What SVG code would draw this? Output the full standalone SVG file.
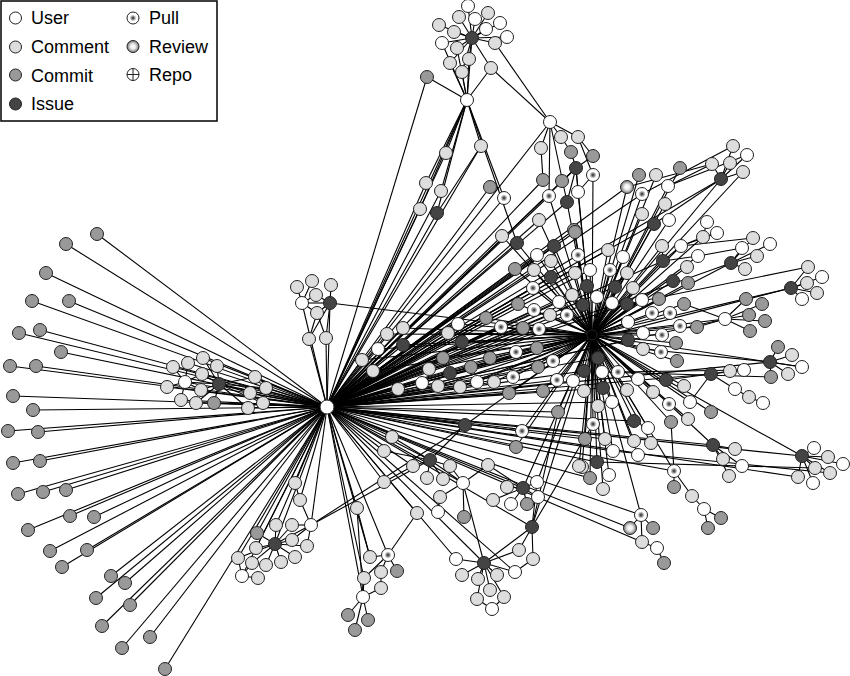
<svg xmlns="http://www.w3.org/2000/svg" width="850" height="676" viewBox="0 0 850 676">
<style>
circle{stroke:#222;stroke-width:1;r:6.5px}
.u{fill:#fff}.c{fill:#ddd}.m{fill:#999}.i{fill:#444}.p{fill:url(#gp)}.r{fill:url(#gr)}.h{fill:#000;r:5px}
#connectors path{stroke:#000;stroke-width:1.1;fill:none}
text{font-family:"Liberation Sans",Arial,sans-serif;font-size:18px;fill:#000}
</style>
<defs>
<radialGradient id="gp"><stop offset="0" stop-color="#222"/><stop offset="0.3" stop-color="#999"/><stop offset="0.55" stop-color="#fff"/><stop offset="1" stop-color="#fff"/></radialGradient>
<radialGradient id="gr"><stop offset="0" stop-color="#fff"/><stop offset="0.4" stop-color="#eee"/><stop offset="1" stop-color="#777"/></radialGradient>
</defs>
<rect width="850" height="676" fill="#fff"/>
<g id="connectors">
<path d="M327 407L97 234"/><path d="M327 407L66 244"/><path d="M327 407L46 273"/><path d="M327 407L69 301"/><path d="M327 407L32 301"/><path d="M327 407L40 330"/><path d="M327 407L19 333"/><path d="M327 407L61 352"/><path d="M327 407L10 366"/><path d="M327 407L36 366"/><path d="M327 407L13 396"/><path d="M327 407L33 410"/><path d="M327 407L8 431"/><path d="M327 407L38 432"/><path d="M327 407L13 463"/><path d="M327 407L40 461"/><path d="M327 407L18 494"/><path d="M327 407L43 492"/><path d="M327 407L66 490"/><path d="M327 407L28 530"/><path d="M327 407L70 516"/><path d="M327 407L94 517"/><path d="M327 407L50 551"/><path d="M327 407L87 550"/><path d="M327 407L111 576"/><path d="M327 407L62 567"/><path d="M327 407L96 598"/><path d="M327 407L125 583"/><path d="M327 407L130 605"/><path d="M327 407L102 626"/><path d="M327 407L150 637"/><path d="M327 407L122 648"/><path d="M327 407L165 669"/>
<path d="M327 407L173 367"/><path d="M327 407L188 363"/><path d="M327 407L203 358"/><path d="M327 407L167 387"/><path d="M327 407L181 400"/><path d="M327 407L196 403"/><path d="M327 407L214 403"/><path d="M327 407L255 377"/><path d="M327 407L266 388"/><path d="M327 407L250 393"/><path d="M327 407L263 403"/><path d="M327 407L248 408"/><path d="M327 407L219 384"/><path d="M327 407L185 382"/>
<path d="M185 382L173 367"/><path d="M185 382L188 363"/><path d="M185 382L167 387"/><path d="M185 382L181 400"/><path d="M185 382L202 374"/><path d="M185 382L201 390"/><path d="M185 382L219 384"/><path d="M219 384L203 358"/><path d="M219 384L217 366"/><path d="M219 384L202 374"/><path d="M219 384L201 390"/><path d="M219 384L196 403"/><path d="M219 384L214 403"/><path d="M219 384L255 377"/><path d="M219 384L266 388"/><path d="M219 384L250 393"/><path d="M219 384L263 403"/><path d="M219 384L248 408"/>
<path d="M327 407L309 339"/><path d="M327 407L326 338"/><path d="M327 407L302 303"/><path d="M327 407L330 303"/><path d="M302 303L297 287"/><path d="M302 303L312 281"/><path d="M302 303L316 295"/><path d="M302 303L317 313"/><path d="M302 303L330 303"/><path d="M330 303L331 285"/><path d="M330 303L316 295"/><path d="M330 303L317 313"/><path d="M330 303L309 339"/><path d="M330 303L326 338"/><path d="M317 313L309 339"/><path d="M317 313L326 338"/><path d="M330 303L592 335"/>
<path d="M472 38L468 6"/><path d="M472 38L459 17"/><path d="M472 38L475 19"/><path d="M472 38L488 13"/><path d="M472 38L500 23"/><path d="M472 38L439 25"/><path d="M472 38L454 32"/><path d="M472 38L486 29"/><path d="M472 38L507 37"/><path d="M472 38L442 43"/><path d="M472 38L457 48"/><path d="M472 38L495 43"/><path d="M472 38L450 63"/><path d="M472 38L469 59"/><path d="M472 38L462 72"/><path d="M472 38L491 68"/>
<path d="M467 100L442 43"/><path d="M467 100L450 63"/><path d="M467 100L469 59"/><path d="M467 100L462 72"/><path d="M467 100L491 68"/><path d="M467 100L427 77"/><path d="M467 100L457 48"/><path d="M467 100L472 38"/><path d="M427 77L327 407"/><path d="M467 100L327 407"/><path d="M467 100L481 146"/><path d="M467 100L446 153"/><path d="M467 100L426 183"/><path d="M467 100L441 191"/><path d="M467 100L420 209"/><path d="M467 100L437 213"/><path d="M467 100L504 198"/><path d="M467 100L517 243"/><path d="M481 146L437 213"/><path d="M481 146L327 407"/><path d="M446 153L327 407"/><path d="M426 183L327 407"/><path d="M441 191L327 407"/><path d="M420 209L327 407"/><path d="M437 213L327 407"/>
<path d="M550 122L491 68"/><path d="M550 122L495 43"/><path d="M550 122L561 137"/><path d="M550 122L578 137"/><path d="M550 122L541 148"/><path d="M550 122L549 196"/><path d="M550 122L567 202"/><path d="M550 122L327 407"/><path d="M561 137L571 152"/><path d="M578 137L593 156"/><path d="M578 137L593 175"/><path d="M576 168L571 152"/><path d="M576 168L593 156"/><path d="M576 168L578 192"/><path d="M576 168L567 202"/><path d="M576 168L562 181"/><path d="M578 192L593 175"/><path d="M541 148L543 180"/>
<path d="M327 407L549 196"/><path d="M327 407L576 168"/><path d="M327 407L543 180"/><path d="M327 407L562 181"/><path d="M327 407L567 202"/><path d="M327 407L539 220"/><path d="M327 407L574 230"/><path d="M327 407L490 187"/><path d="M327 407L504 198"/>
<path d="M592 335L576 168"/><path d="M592 335L593 175"/><path d="M592 335L578 192"/><path d="M592 335L567 202"/><path d="M592 335L574 230"/><path d="M592 335L549 196"/><path d="M592 335L539 220"/>
<path d="M327 407L502 236"/><path d="M327 407L517 243"/><path d="M327 407L554 246"/><path d="M327 407L537 255"/><path d="M327 407L551 261"/><path d="M327 407L578 255"/><path d="M327 407L515 269"/><path d="M327 407L534 270"/><path d="M327 407L551 277"/><path d="M327 407L575 273"/><path d="M327 407L590 270"/><path d="M327 407L587 286"/><path d="M327 407L572 295"/><path d="M327 407L533 288"/><path d="M327 407L559 302"/><path d="M327 407L518 304"/><path d="M327 407L583 305"/><path d="M327 407L550 315"/><path d="M327 407L534 310"/><path d="M327 407L567 315"/><path d="M327 407L486 318"/><path d="M327 407L458 324"/><path d="M327 407L448 333"/><path d="M327 407L501 327"/><path d="M327 407L523 328"/><path d="M327 407L539 329"/><path d="M327 407L462 342"/><path d="M327 407L403 328"/><path d="M327 407L387 334"/><path d="M327 407L403 345"/><path d="M327 407L378 349"/><path d="M327 407L362 360"/><path d="M327 407L373 371"/><path d="M327 407L443 358"/><path d="M327 407L490 358"/><path d="M327 407L516 352"/><path d="M327 407L537 348"/><path d="M327 407L553 361"/><path d="M327 407L429 369"/><path d="M327 407L450 373"/><path d="M327 407L471 367"/><path d="M327 407L538 367"/><path d="M327 407L513 377"/><path d="M327 407L557 380"/><path d="M327 407L573 381"/><path d="M327 407L398 389"/><path d="M327 407L422 383"/><path d="M327 407L438 386"/><path d="M327 407L460 387"/><path d="M327 407L477 382"/><path d="M327 407L494 382"/><path d="M327 407L509 393"/><path d="M327 407L543 391"/><path d="M327 407L558 412"/><path d="M327 407L465 425"/><path d="M327 407L522 431"/><path d="M327 407L516 447"/><path d="M327 407L575 232"/>
<path d="M592 335L502 236"/><path d="M592 335L517 243"/><path d="M592 335L554 246"/><path d="M592 335L537 255"/><path d="M592 335L551 261"/><path d="M592 335L578 255"/><path d="M592 335L515 269"/><path d="M592 335L534 270"/><path d="M592 335L551 277"/><path d="M592 335L575 273"/><path d="M592 335L590 270"/><path d="M592 335L587 286"/><path d="M592 335L572 295"/><path d="M592 335L533 288"/><path d="M592 335L559 302"/><path d="M592 335L518 304"/><path d="M592 335L583 305"/><path d="M592 335L550 315"/><path d="M592 335L534 310"/><path d="M592 335L567 315"/><path d="M592 335L486 318"/><path d="M592 335L458 324"/><path d="M592 335L448 333"/><path d="M592 335L501 327"/><path d="M592 335L523 328"/><path d="M592 335L539 329"/><path d="M592 335L462 342"/><path d="M592 335L403 328"/><path d="M592 335L387 334"/><path d="M592 335L403 345"/><path d="M592 335L378 349"/><path d="M592 335L362 360"/><path d="M592 335L373 371"/><path d="M592 335L443 358"/><path d="M592 335L490 358"/><path d="M592 335L516 352"/><path d="M592 335L537 348"/><path d="M592 335L553 361"/><path d="M592 335L429 369"/><path d="M592 335L450 373"/><path d="M592 335L471 367"/><path d="M592 335L538 367"/><path d="M592 335L513 377"/><path d="M592 335L557 380"/><path d="M592 335L573 381"/><path d="M592 335L398 389"/><path d="M592 335L422 383"/><path d="M592 335L438 386"/><path d="M592 335L460 387"/><path d="M592 335L477 382"/><path d="M592 335L494 382"/><path d="M592 335L509 393"/><path d="M592 335L543 391"/><path d="M592 335L558 412"/><path d="M592 335L465 425"/><path d="M592 335L522 431"/><path d="M592 335L516 447"/><path d="M592 335L575 232"/>
<path d="M592 335L608 250"/><path d="M592 335L623 257"/><path d="M592 335L610 270"/><path d="M592 335L627 273"/><path d="M592 335L615 287"/><path d="M592 335L633 288"/><path d="M592 335L597 297"/><path d="M592 335L612 303"/><path d="M592 335L627 304"/><path d="M592 335L642 300"/><path d="M592 335L659 299"/><path d="M592 335L652 313"/><path d="M592 335L670 313"/><path d="M592 335L628 322"/><path d="M592 335L643 333"/><path d="M592 335L662 335"/><path d="M592 335L628 340"/><path d="M592 335L676 343"/><path d="M592 335L643 349"/><path d="M592 335L661 352"/><path d="M592 335L677 361"/><path d="M592 335L598 358"/><path d="M592 335L584 371"/><path d="M592 335L602 372"/><path d="M592 335L618 372"/><path d="M592 335L638 379"/><path d="M592 335L666 380"/><path d="M592 335L684 386"/><path d="M592 335L603 388"/><path d="M592 335L627 390"/><path d="M592 335L653 392"/><path d="M592 335L584 391"/><path d="M592 335L612 402"/><path d="M592 335L598 406"/><path d="M592 335L669 404"/><path d="M592 335L690 402"/><path d="M592 335L711 412"/><path d="M592 335L634 421"/><path d="M592 335L648 428"/><path d="M592 335L671 422"/><path d="M592 335L688 419"/><path d="M592 335L593 424"/><path d="M592 335L585 439"/><path d="M592 335L605 439"/><path d="M592 335L634 441"/><path d="M592 335L651 443"/><path d="M592 335L613 451"/><path d="M592 335L638 455"/><path d="M592 335L597 462"/><path d="M592 335L582 467"/><path d="M592 335L609 475"/><path d="M592 335L590 478"/><path d="M592 335L603 489"/><path d="M592 335L579 466"/><path d="M592 335L654 224"/><path d="M592 335L669 220"/><path d="M592 335L665 204"/><path d="M592 335L642 214"/><path d="M592 335L663 261"/><path d="M592 335L687 267"/><path d="M592 335L673 281"/><path d="M592 335L688 283"/><path d="M592 335L684 304"/><path d="M592 335L697 327"/><path d="M592 335L680 326"/><path d="M592 335L627 187"/><path d="M592 335L642 194"/><path d="M592 335L639 175"/><path d="M592 335L656 175"/><path d="M592 335L668 186"/><path d="M592 335L680 168"/><path d="M592 335L662 246"/><path d="M592 335L681 246"/><path d="M592 335L698 256"/><path d="M592 335L703 237"/>
<path d="M327 407L627 187"/><path d="M327 407L642 194"/><path d="M327 407L654 224"/><path d="M327 407L663 261"/><path d="M327 407L731 263"/><path d="M327 407L791 288"/><path d="M327 407L725 319"/><path d="M327 407L770 362"/><path d="M327 407L711 374"/><path d="M327 407L713 445"/><path d="M327 407L802 456"/><path d="M327 407L674 471"/><path d="M327 407L641 515"/><path d="M327 407L630 528"/><path d="M327 407L642 542"/><path d="M327 407L798 477"/><path d="M327 407L721 179"/><path d="M327 407L608 250"/><path d="M327 407L615 287"/><path d="M327 407L627 304"/><path d="M327 407L628 340"/><path d="M327 407L634 421"/><path d="M327 407L597 462"/><path d="M327 407L603 388"/><path d="M327 407L598 358"/><path d="M327 407L584 371"/><path d="M327 407L612 402"/><path d="M327 407L585 439"/><path d="M327 407L590 478"/><path d="M327 407L613 451"/><path d="M327 407L605 439"/>
<path d="M721 179L733 146"/><path d="M721 179L747 155"/><path d="M721 179L730 163"/><path d="M721 179L743 172"/><path d="M721 179L712 164"/><path d="M712 164L668 186"/><path d="M747 155L668 186"/><path d="M721 179L654 224"/><path d="M743 172L592 335"/><path d="M712 164L627 187"/><path d="M733 146L642 194"/><path d="M721 179L592 335"/>
<path d="M663 261L681 246"/><path d="M663 261L698 256"/><path d="M663 261L662 246"/><path d="M681 246L717 233"/><path d="M703 237L707 222"/><path d="M703 237L717 233"/><path d="M681 246L703 237"/><path d="M698 256L742 248"/>
<path d="M731 263L753 238"/><path d="M731 263L770 244"/><path d="M731 263L742 248"/><path d="M731 263L757 256"/><path d="M731 263L745 269"/><path d="M731 263L592 335"/><path d="M753 238L681 246"/>
<path d="M791 288L808 267"/><path d="M791 288L822 277"/><path d="M791 288L807 283"/><path d="M791 288L817 293"/><path d="M791 288L802 299"/><path d="M791 288L592 335"/><path d="M808 267L627 304"/>
<path d="M725 319L746 299"/><path d="M725 319L762 304"/><path d="M725 319L749 315"/><path d="M725 319L765 321"/><path d="M725 319L750 331"/><path d="M725 319L592 335"/><path d="M725 319L684 304"/><path d="M725 319L697 327"/>
<path d="M770 362L778 347"/><path d="M770 362L792 355"/><path d="M770 362L802 367"/><path d="M770 362L788 374"/><path d="M770 362L771 377"/><path d="M770 362L643 349"/><path d="M771 377L602 372"/><path d="M802 367L592 335"/>
<path d="M711 374L730 371"/><path d="M711 374L744 370"/><path d="M711 374L735 389"/><path d="M735 389L749 397"/><path d="M749 397L763 403"/><path d="M711 374L666 380"/><path d="M711 374L690 402"/><path d="M744 370L618 372"/>
<path d="M713 445L735 449"/><path d="M713 445L723 459"/><path d="M713 445L742 466"/><path d="M713 445L729 476"/><path d="M713 445L669 404"/>
<path d="M802 456L814 448"/><path d="M802 456L828 457"/><path d="M802 456L815 468"/><path d="M802 456L798 477"/><path d="M802 456L813 483"/><path d="M802 456L843 464"/><path d="M802 456L666 380"/><path d="M815 468L597 462"/><path d="M830 473L613 451"/><path d="M802 456L830 473"/>
<path d="M674 471L674 487"/><path d="M674 471L692 496"/><path d="M692 496L704 509"/><path d="M704 509L721 518"/><path d="M704 509L708 528"/><path d="M674 471L671 422"/><path d="M674 471L592 335"/>
<path d="M641 515L630 528"/><path d="M641 515L653 528"/><path d="M641 515L642 542"/><path d="M642 542L657 548"/><path d="M657 548L664 563"/><path d="M641 515L592 335"/>
<path d="M327 407L392 437"/><path d="M327 407L384 451"/><path d="M327 407L413 466"/><path d="M327 407L430 460"/><path d="M327 407L384 482"/><path d="M327 407L357 508"/><path d="M327 407L417 513"/><path d="M327 407L463 483"/><path d="M327 407L484 563"/><path d="M327 407L456 559"/><path d="M327 407L515 572"/><path d="M327 407L532 527"/><path d="M327 407L523 488"/><path d="M327 407L370 557"/><path d="M327 407L364 578"/><path d="M327 407L363 597"/><path d="M327 407L388 555"/><path d="M327 407L295 483"/><path d="M327 407L300 500"/><path d="M327 407L311 525"/><path d="M327 407L276 525"/><path d="M327 407L257 533"/><path d="M327 407L238 558"/><path d="M327 407L242 576"/><path d="M327 407L275 544"/><path d="M327 407L256 548"/>
<path d="M592 335L523 488"/><path d="M592 335L532 527"/><path d="M592 335L537 482"/>
<path d="M430 460L392 437"/><path d="M430 460L413 466"/><path d="M430 460L450 466"/><path d="M430 460L427 478"/><path d="M430 460L443 479"/><path d="M430 460L384 451"/><path d="M430 460L465 425"/><path d="M463 483L450 466"/><path d="M463 483L488 465"/><path d="M463 483L440 497"/><path d="M463 483L464 517"/><path d="M463 483L430 460"/><path d="M440 497L438 512"/><path d="M384 482L413 466"/>
<path d="M523 488L507 487"/><path d="M523 488L537 482"/><path d="M523 488L538 497"/><path d="M523 488L493 500"/><path d="M523 488L511 504"/><path d="M523 488L527 504"/><path d="M523 488L488 465"/><path d="M532 527L519 550"/><path d="M532 527L533 559"/><path d="M532 527L537 482"/><path d="M532 527L484 563"/><path d="M532 527L558 412"/><path d="M532 527L593 424"/>
<path d="M484 563L456 559"/><path d="M484 563L462 575"/><path d="M484 563L478 579"/><path d="M484 563L497 575"/><path d="M484 563L490 590"/><path d="M484 563L504 597"/><path d="M484 563L477 599"/><path d="M484 563L519 550"/><path d="M484 563L515 572"/><path d="M492 609L477 599"/><path d="M492 609L504 597"/><path d="M515 572L533 559"/><path d="M463 483L484 563"/>
<path d="M357 508L370 557"/><path d="M357 508L363 597"/><path d="M417 513L388 555"/><path d="M388 555L370 557"/><path d="M388 555L381 572"/><path d="M388 555L397 571"/><path d="M388 555L364 578"/><path d="M363 597L348 615"/><path d="M363 597L368 620"/><path d="M363 597L355 630"/><path d="M363 597L381 588"/><path d="M363 597L364 578"/><path d="M381 572L381 588"/><path d="M311 525L465 426"/><path d="M311 525L430 460"/>
<path d="M275 544L276 525"/><path d="M275 544L292 525"/><path d="M275 544L257 533"/><path d="M275 544L292 540"/><path d="M275 544L256 548"/><path d="M275 544L238 558"/><path d="M275 544L252 563"/><path d="M275 544L266 565"/><path d="M275 544L281 562"/><path d="M275 544L295 557"/><path d="M275 544L307 546"/><path d="M311 525L300 500"/><path d="M311 525L292 525"/><path d="M311 525L292 540"/><path d="M311 525L307 546"/><path d="M311 525L275 544"/><path d="M242 576L238 558"/><path d="M242 576L252 563"/><path d="M242 576L258 578"/><path d="M300 500L295 483"/>
</g>
<g id="nodes">
<g id="hubA"><circle class="u" cx="327" cy="407" style="r:7px"/></g>
<g id="hubB"><circle class="h" cx="592" cy="335"/></g>
<g id="hubC"><circle class="u" cx="467" cy="100"/></g>
<g id="hubD"><circle class="u" cx="550" cy="122"/></g>
<g id="hubT"><circle class="i" cx="472" cy="38"/></g>
<g id="n1"><circle class="m" cx="97" cy="234"/></g><g id="n2"><circle class="m" cx="66" cy="244"/></g><g id="n3"><circle class="m" cx="46" cy="273"/></g><g id="n4"><circle class="m" cx="69" cy="301"/></g><g id="n5"><circle class="m" cx="32" cy="301"/></g><g id="n6"><circle class="m" cx="40" cy="330"/></g><g id="n7"><circle class="m" cx="19" cy="333"/></g><g id="n8"><circle class="m" cx="61" cy="352"/></g><g id="n9"><circle class="m" cx="10" cy="366"/></g><g id="n10"><circle class="m" cx="36" cy="366"/></g><g id="n11"><circle class="m" cx="13" cy="396"/></g><g id="n12"><circle class="m" cx="33" cy="410"/></g><g id="n13"><circle class="m" cx="8" cy="431"/></g><g id="n14"><circle class="m" cx="38" cy="432"/></g><g id="n15"><circle class="m" cx="13" cy="463"/></g><g id="n16"><circle class="m" cx="40" cy="461"/></g><g id="n17"><circle class="m" cx="18" cy="494"/></g><g id="n18"><circle class="m" cx="43" cy="492"/></g><g id="n19"><circle class="m" cx="66" cy="490"/></g><g id="n20"><circle class="m" cx="28" cy="530"/></g><g id="n21"><circle class="m" cx="70" cy="516"/></g><g id="n22"><circle class="m" cx="94" cy="517"/></g><g id="n23"><circle class="m" cx="50" cy="551"/></g><g id="n24"><circle class="m" cx="87" cy="550"/></g><g id="n25"><circle class="m" cx="111" cy="576"/></g><g id="n26"><circle class="m" cx="62" cy="567"/></g><g id="n27"><circle class="m" cx="96" cy="598"/></g><g id="n28"><circle class="m" cx="125" cy="583"/></g><g id="n29"><circle class="m" cx="130" cy="605"/></g><g id="n30"><circle class="m" cx="102" cy="626"/></g><g id="n31"><circle class="m" cx="150" cy="637"/></g><g id="n32"><circle class="m" cx="122" cy="648"/></g><g id="n33"><circle class="m" cx="165" cy="669"/></g>
<g id="n34"><circle class="c" cx="173" cy="367"/></g><g id="n35"><circle class="c" cx="188" cy="363"/></g><g id="n36"><circle class="c" cx="203" cy="358"/></g><g id="n37"><circle class="c" cx="217" cy="366"/></g><g id="n38"><circle class="c" cx="202" cy="374"/></g><g id="n39"><circle class="u" cx="185" cy="382"/></g><g id="n40"><circle class="c" cx="167" cy="387"/></g><g id="n41"><circle class="c" cx="201" cy="390"/></g><g id="n42"><circle class="i" cx="219" cy="384"/></g><g id="n43"><circle class="c" cx="181" cy="400"/></g><g id="n44"><circle class="c" cx="196" cy="403"/></g><g id="n45"><circle class="m" cx="214" cy="403"/></g><g id="n46"><circle class="c" cx="255" cy="377"/></g><g id="n47"><circle class="c" cx="266" cy="388"/></g><g id="n48"><circle class="c" cx="250" cy="393"/></g><g id="n49"><circle class="c" cx="263" cy="403"/></g><g id="n50"><circle class="c" cx="248" cy="408"/></g>
<g id="n51"><circle class="c" cx="297" cy="287"/></g><g id="n52"><circle class="c" cx="312" cy="281"/></g><g id="n53"><circle class="c" cx="331" cy="285"/></g><g id="n54"><circle class="c" cx="316" cy="295"/></g><g id="n55"><circle class="u" cx="302" cy="303"/></g><g id="n56"><circle class="i" cx="330" cy="303"/></g><g id="n57"><circle class="c" cx="317" cy="313"/></g><g id="n58"><circle class="c" cx="309" cy="339"/></g><g id="n59"><circle class="c" cx="326" cy="338"/></g>
<g id="n60"><circle class="u" cx="468" cy="6"/></g><g id="n61"><circle class="c" cx="459" cy="17"/></g><g id="n62"><circle class="u" cx="475" cy="19"/></g><g id="n63"><circle class="c" cx="488" cy="13"/></g><g id="n64"><circle class="u" cx="500" cy="23"/></g><g id="n65"><circle class="c" cx="439" cy="25"/></g><g id="n66"><circle class="c" cx="454" cy="32"/></g><g id="n67"><circle class="u" cx="486" cy="29"/></g><g id="n68"><circle class="u" cx="507" cy="37"/></g><g id="n69"><circle class="u" cx="442" cy="43"/></g><g id="n70"><circle class="c" cx="457" cy="48"/></g><g id="n71"><circle class="c" cx="495" cy="43"/></g><g id="n72"><circle class="c" cx="450" cy="63"/></g><g id="n73"><circle class="c" cx="469" cy="59"/></g><g id="n74"><circle class="c" cx="462" cy="72"/></g><g id="n75"><circle class="c" cx="491" cy="68"/></g><g id="n76"><circle class="m" cx="427" cy="77"/></g>
<g id="n77"><circle class="c" cx="481" cy="146"/></g><g id="n78"><circle class="c" cx="446" cy="153"/></g><g id="n79"><circle class="c" cx="426" cy="183"/></g><g id="n80"><circle class="c" cx="441" cy="191"/></g><g id="n81"><circle class="m" cx="490" cy="187"/></g><g id="n82"><circle class="p" cx="504" cy="198"/></g><g id="n83"><circle class="c" cx="420" cy="209"/></g><g id="n84"><circle class="i" cx="437" cy="213"/></g>
<g id="n85"><circle class="c" cx="561" cy="137"/></g><g id="n86"><circle class="c" cx="578" cy="137"/></g><g id="n87"><circle class="c" cx="541" cy="148"/></g><g id="n88"><circle class="m" cx="571" cy="152"/></g><g id="n89"><circle class="m" cx="593" cy="156"/></g><g id="n90"><circle class="i" cx="576" cy="168"/></g><g id="n91"><circle class="p" cx="593" cy="175"/></g><g id="n92"><circle class="m" cx="543" cy="180"/></g><g id="n93"><circle class="m" cx="562" cy="181"/></g><g id="n94"><circle class="u" cx="578" cy="192"/></g><g id="n95"><circle class="p" cx="549" cy="196"/></g><g id="n96"><circle class="i" cx="567" cy="202"/></g><g id="n97"><circle class="c" cx="539" cy="220"/></g><g id="n98"><circle class="m" cx="574" cy="230"/></g>
<g id="n99"><circle class="c" cx="502" cy="236"/></g><g id="n100"><circle class="i" cx="517" cy="243"/></g><g id="n101"><circle class="i" cx="554" cy="246"/></g><g id="n102"><circle class="u" cx="537" cy="255"/></g><g id="n103"><circle class="c" cx="551" cy="261"/></g><g id="n104"><circle class="p" cx="578" cy="255"/></g><g id="n105"><circle class="m" cx="515" cy="269"/></g><g id="n106"><circle class="c" cx="534" cy="270"/></g><g id="n107"><circle class="i" cx="551" cy="277"/></g><g id="n108"><circle class="c" cx="575" cy="273"/></g><g id="n109"><circle class="u" cx="590" cy="270"/></g><g id="n110"><circle class="i" cx="587" cy="286"/></g><g id="n111"><circle class="c" cx="572" cy="295"/></g><g id="n112"><circle class="p" cx="533" cy="288"/></g><g id="n113"><circle class="u" cx="559" cy="302"/></g><g id="n114"><circle class="m" cx="518" cy="304"/></g><g id="n115"><circle class="i" cx="583" cy="305"/></g><g id="n116"><circle class="c" cx="550" cy="315"/></g><g id="n117"><circle class="p" cx="534" cy="310"/></g><g id="n118"><circle class="p" cx="567" cy="315"/></g><g id="n119"><circle class="m" cx="486" cy="318"/></g><g id="n120"><circle class="u" cx="458" cy="324"/></g><g id="n121"><circle class="c" cx="448" cy="333"/></g><g id="n122"><circle class="p" cx="501" cy="327"/></g><g id="n123"><circle class="m" cx="523" cy="328"/></g><g id="n124"><circle class="p" cx="539" cy="329"/></g><g id="n125"><circle class="i" cx="462" cy="342"/></g><g id="n126"><circle class="c" cx="403" cy="328"/></g><g id="n127"><circle class="c" cx="387" cy="334"/></g><g id="n128"><circle class="i" cx="403" cy="345"/></g><g id="n129"><circle class="u" cx="378" cy="349"/></g><g id="n130"><circle class="c" cx="362" cy="360"/></g><g id="n131"><circle class="c" cx="373" cy="371"/></g><g id="n132"><circle class="m" cx="443" cy="358"/></g><g id="n133"><circle class="m" cx="490" cy="358"/></g><g id="n134"><circle class="p" cx="516" cy="352"/></g><g id="n135"><circle class="m" cx="537" cy="348"/></g><g id="n136"><circle class="p" cx="553" cy="361"/></g><g id="n137"><circle class="c" cx="429" cy="369"/></g><g id="n138"><circle class="i" cx="450" cy="373"/></g><g id="n139"><circle class="m" cx="471" cy="367"/></g><g id="n140"><circle class="m" cx="538" cy="367"/></g><g id="n141"><circle class="p" cx="513" cy="377"/></g><g id="n142"><circle class="p" cx="557" cy="380"/></g><g id="n143"><circle class="u" cx="573" cy="381"/></g><g id="n144"><circle class="c" cx="398" cy="389"/></g><g id="n145"><circle class="u" cx="422" cy="383"/></g><g id="n146"><circle class="c" cx="438" cy="386"/></g><g id="n147"><circle class="c" cx="460" cy="387"/></g><g id="n148"><circle class="u" cx="477" cy="382"/></g><g id="n149"><circle class="c" cx="494" cy="382"/></g><g id="n150"><circle class="m" cx="509" cy="393"/></g><g id="n151"><circle class="m" cx="543" cy="391"/></g><g id="n152"><circle class="m" cx="558" cy="412"/></g><g id="n153"><circle class="i" cx="465" cy="425"/></g><g id="n154"><circle class="p" cx="522" cy="431"/></g><g id="n155"><circle class="m" cx="516" cy="447"/></g><g id="n156"><circle class="m" cx="575" cy="232"/></g>
<g id="n157"><circle class="c" cx="608" cy="250"/></g><g id="n158"><circle class="u" cx="623" cy="257"/></g><g id="n159"><circle class="p" cx="610" cy="270"/></g><g id="n160"><circle class="c" cx="627" cy="273"/></g><g id="n161"><circle class="i" cx="615" cy="287"/></g><g id="n162"><circle class="c" cx="633" cy="288"/></g><g id="n163"><circle class="u" cx="597" cy="297"/></g><g id="n164"><circle class="u" cx="612" cy="303"/></g><g id="n165"><circle class="i" cx="627" cy="304"/></g><g id="n166"><circle class="u" cx="642" cy="300"/></g><g id="n167"><circle class="m" cx="659" cy="299"/></g><g id="n168"><circle class="p" cx="652" cy="313"/></g><g id="n169"><circle class="p" cx="670" cy="313"/></g><g id="n170"><circle class="u" cx="628" cy="322"/></g><g id="n171"><circle class="u" cx="643" cy="333"/></g><g id="n172"><circle class="p" cx="662" cy="335"/></g><g id="n173"><circle class="i" cx="628" cy="340"/></g><g id="n174"><circle class="m" cx="676" cy="343"/></g><g id="n175"><circle class="c" cx="643" cy="349"/></g><g id="n176"><circle class="p" cx="661" cy="352"/></g><g id="n177"><circle class="m" cx="677" cy="361"/></g><g id="n178"><circle class="i" cx="598" cy="358"/></g><g id="n179"><circle class="i" cx="584" cy="371"/></g><g id="n180"><circle class="u" cx="602" cy="372"/></g><g id="n181"><circle class="p" cx="618" cy="372"/></g><g id="n182"><circle class="u" cx="638" cy="379"/></g><g id="n183"><circle class="i" cx="666" cy="380"/></g><g id="n184"><circle class="c" cx="684" cy="386"/></g><g id="n185"><circle class="i" cx="603" cy="388"/></g><g id="n186"><circle class="c" cx="627" cy="390"/></g><g id="n187"><circle class="c" cx="653" cy="392"/></g><g id="n188"><circle class="c" cx="584" cy="391"/></g><g id="n189"><circle class="u" cx="612" cy="402"/></g><g id="n190"><circle class="c" cx="598" cy="406"/></g><g id="n191"><circle class="p" cx="669" cy="404"/></g><g id="n192"><circle class="u" cx="690" cy="402"/></g><g id="n193"><circle class="m" cx="711" cy="412"/></g><g id="n194"><circle class="i" cx="634" cy="421"/></g><g id="n195"><circle class="u" cx="648" cy="428"/></g><g id="n196"><circle class="m" cx="671" cy="422"/></g><g id="n197"><circle class="c" cx="688" cy="419"/></g><g id="n198"><circle class="p" cx="593" cy="424"/></g><g id="n199"><circle class="m" cx="585" cy="439"/></g><g id="n200"><circle class="c" cx="605" cy="439"/></g><g id="n201"><circle class="c" cx="634" cy="441"/></g><g id="n202"><circle class="c" cx="651" cy="443"/></g><g id="n203"><circle class="u" cx="613" cy="451"/></g><g id="n204"><circle class="u" cx="638" cy="455"/></g><g id="n205"><circle class="i" cx="597" cy="462"/></g><g id="n206"><circle class="c" cx="582" cy="467"/></g><g id="n207"><circle class="u" cx="609" cy="475"/></g><g id="n208"><circle class="m" cx="590" cy="478"/></g><g id="n209"><circle class="c" cx="603" cy="489"/></g><g id="n210"><circle class="c" cx="579" cy="466"/></g>
<g id="n211"><circle class="i" cx="654" cy="224"/></g><g id="n212"><circle class="u" cx="669" cy="220"/></g><g id="n213"><circle class="c" cx="665" cy="204"/></g><g id="n214"><circle class="c" cx="642" cy="214"/></g><g id="n215"><circle class="i" cx="663" cy="261"/></g><g id="n216"><circle class="c" cx="687" cy="267"/></g><g id="n217"><circle class="i" cx="673" cy="281"/></g><g id="n218"><circle class="m" cx="688" cy="283"/></g><g id="n219"><circle class="m" cx="684" cy="304"/></g><g id="n220"><circle class="m" cx="697" cy="327"/></g><g id="n221"><circle class="p" cx="680" cy="326"/></g><g id="n222"><circle class="r" cx="627" cy="187"/></g><g id="n223"><circle class="p" cx="642" cy="194"/></g><g id="n224"><circle class="m" cx="639" cy="175"/></g><g id="n225"><circle class="c" cx="656" cy="175"/></g><g id="n226"><circle class="u" cx="668" cy="186"/></g><g id="n227"><circle class="m" cx="680" cy="168"/></g><g id="n228"><circle class="c" cx="662" cy="246"/></g><g id="n229"><circle class="u" cx="681" cy="246"/></g><g id="n230"><circle class="u" cx="698" cy="256"/></g><g id="n231"><circle class="u" cx="707" cy="222"/></g><g id="n232"><circle class="u" cx="717" cy="233"/></g><g id="n233"><circle class="c" cx="703" cy="237"/></g>
<g id="n234"><circle class="c" cx="733" cy="146"/></g><g id="n235"><circle class="u" cx="747" cy="155"/></g><g id="n236"><circle class="c" cx="730" cy="163"/></g><g id="n237"><circle class="c" cx="712" cy="164"/></g><g id="n238"><circle class="c" cx="743" cy="172"/></g><g id="n239"><circle class="i" cx="721" cy="179"/></g>
<g id="n240"><circle class="c" cx="753" cy="238"/></g><g id="n241"><circle class="u" cx="770" cy="244"/></g><g id="n242"><circle class="u" cx="742" cy="248"/></g><g id="n243"><circle class="c" cx="757" cy="256"/></g><g id="n244"><circle class="i" cx="731" cy="263"/></g><g id="n245"><circle class="c" cx="745" cy="269"/></g>
<g id="n246"><circle class="c" cx="808" cy="267"/></g><g id="n247"><circle class="u" cx="822" cy="277"/></g><g id="n248"><circle class="c" cx="807" cy="283"/></g><g id="n249"><circle class="i" cx="791" cy="288"/></g><g id="n250"><circle class="c" cx="817" cy="293"/></g><g id="n251"><circle class="u" cx="802" cy="299"/></g>
<g id="n252"><circle class="u" cx="725" cy="319"/></g><g id="n253"><circle class="m" cx="746" cy="299"/></g><g id="n254"><circle class="m" cx="762" cy="304"/></g><g id="n255"><circle class="m" cx="749" cy="315"/></g><g id="n256"><circle class="m" cx="765" cy="321"/></g><g id="n257"><circle class="m" cx="750" cy="331"/></g>
<g id="n258"><circle class="m" cx="778" cy="347"/></g><g id="n259"><circle class="c" cx="792" cy="355"/></g><g id="n260"><circle class="i" cx="770" cy="362"/></g><g id="n261"><circle class="u" cx="802" cy="367"/></g><g id="n262"><circle class="c" cx="788" cy="374"/></g><g id="n263"><circle class="m" cx="771" cy="377"/></g>
<g id="n264"><circle class="i" cx="711" cy="374"/></g><g id="n265"><circle class="c" cx="730" cy="371"/></g><g id="n266"><circle class="u" cx="744" cy="370"/></g><g id="n267"><circle class="u" cx="735" cy="389"/></g><g id="n268"><circle class="c" cx="749" cy="397"/></g><g id="n269"><circle class="u" cx="763" cy="403"/></g>
<g id="n270"><circle class="i" cx="713" cy="445"/></g><g id="n271"><circle class="c" cx="735" cy="449"/></g><g id="n272"><circle class="c" cx="723" cy="459"/></g><g id="n273"><circle class="u" cx="742" cy="466"/></g><g id="n274"><circle class="c" cx="729" cy="476"/></g>
<g id="n275"><circle class="u" cx="814" cy="448"/></g><g id="n276"><circle class="c" cx="828" cy="457"/></g><g id="n277"><circle class="i" cx="802" cy="456"/></g><g id="n278"><circle class="u" cx="843" cy="464"/></g><g id="n279"><circle class="c" cx="815" cy="468"/></g><g id="n280"><circle class="c" cx="830" cy="473"/></g><g id="n281"><circle class="c" cx="798" cy="477"/></g><g id="n282"><circle class="u" cx="813" cy="483"/></g>
<g id="n283"><circle class="p" cx="674" cy="471"/></g><g id="n284"><circle class="m" cx="674" cy="487"/></g><g id="n285"><circle class="c" cx="692" cy="496"/></g><g id="n286"><circle class="u" cx="704" cy="509"/></g><g id="n287"><circle class="m" cx="721" cy="518"/></g><g id="n288"><circle class="m" cx="708" cy="528"/></g>
<g id="n289"><circle class="p" cx="641" cy="515"/></g><g id="n290"><circle class="r" cx="630" cy="528"/></g><g id="n291"><circle class="m" cx="653" cy="528"/></g><g id="n292"><circle class="c" cx="642" cy="542"/></g><g id="n293"><circle class="u" cx="657" cy="548"/></g><g id="n294"><circle class="m" cx="664" cy="563"/></g>
<g id="n295"><circle class="c" cx="392" cy="437"/></g><g id="n296"><circle class="c" cx="384" cy="451"/></g><g id="n297"><circle class="c" cx="413" cy="466"/></g><g id="n298"><circle class="i" cx="430" cy="460"/></g><g id="n299"><circle class="c" cx="450" cy="466"/></g><g id="n300"><circle class="c" cx="488" cy="465"/></g><g id="n301"><circle class="c" cx="427" cy="478"/></g><g id="n302"><circle class="c" cx="443" cy="479"/></g><g id="n303"><circle class="u" cx="463" cy="483"/></g><g id="n304"><circle class="c" cx="384" cy="482"/></g><g id="n305"><circle class="c" cx="440" cy="497"/></g><g id="n306"><circle class="u" cx="438" cy="512"/></g><g id="n307"><circle class="m" cx="464" cy="517"/></g><g id="n308"><circle class="c" cx="357" cy="508"/></g><g id="n309"><circle class="c" cx="417" cy="513"/></g>
<g id="n310"><circle class="c" cx="507" cy="487"/></g><g id="n311"><circle class="i" cx="523" cy="488"/></g><g id="n312"><circle class="u" cx="537" cy="482"/></g><g id="n313"><circle class="u" cx="538" cy="497"/></g><g id="n314"><circle class="c" cx="493" cy="500"/></g><g id="n315"><circle class="u" cx="511" cy="504"/></g><g id="n316"><circle class="m" cx="527" cy="504"/></g><g id="n317"><circle class="i" cx="532" cy="527"/></g><g id="n318"><circle class="c" cx="519" cy="550"/></g><g id="n319"><circle class="c" cx="533" cy="559"/></g><g id="n320"><circle class="u" cx="515" cy="572"/></g><g id="n321"><circle class="i" cx="484" cy="563"/></g><g id="n322"><circle class="u" cx="456" cy="559"/></g><g id="n323"><circle class="c" cx="462" cy="575"/></g><g id="n324"><circle class="c" cx="478" cy="579"/></g><g id="n325"><circle class="c" cx="497" cy="575"/></g><g id="n326"><circle class="c" cx="490" cy="590"/></g><g id="n327"><circle class="c" cx="504" cy="597"/></g><g id="n328"><circle class="c" cx="477" cy="599"/></g><g id="n329"><circle class="u" cx="492" cy="609"/></g>
<g id="n330"><circle class="p" cx="388" cy="555"/></g><g id="n331"><circle class="c" cx="370" cy="557"/></g><g id="n332"><circle class="m" cx="397" cy="571"/></g><g id="n333"><circle class="c" cx="364" cy="578"/></g><g id="n334"><circle class="c" cx="381" cy="572"/></g><g id="n335"><circle class="c" cx="381" cy="588"/></g><g id="n336"><circle class="u" cx="363" cy="597"/></g><g id="n337"><circle class="m" cx="348" cy="615"/></g><g id="n338"><circle class="m" cx="368" cy="620"/></g><g id="n339"><circle class="m" cx="355" cy="630"/></g>
<g id="n340"><circle class="c" cx="295" cy="483"/></g><g id="n341"><circle class="c" cx="300" cy="500"/></g><g id="n342"><circle class="u" cx="311" cy="525"/></g><g id="n343"><circle class="c" cx="292" cy="525"/></g><g id="n344"><circle class="c" cx="276" cy="525"/></g><g id="n345"><circle class="m" cx="257" cy="533"/></g><g id="n346"><circle class="i" cx="275" cy="544"/></g><g id="n347"><circle class="c" cx="292" cy="540"/></g><g id="n348"><circle class="c" cx="307" cy="546"/></g><g id="n349"><circle class="c" cx="256" cy="548"/></g><g id="n350"><circle class="c" cx="238" cy="558"/></g><g id="n351"><circle class="c" cx="252" cy="563"/></g><g id="n352"><circle class="c" cx="266" cy="565"/></g><g id="n353"><circle class="c" cx="281" cy="562"/></g><g id="n354"><circle class="c" cx="295" cy="557"/></g><g id="n355"><circle class="u" cx="242" cy="576"/></g><g id="n356"><circle class="c" cx="258" cy="578"/></g>
</g>
<g id="legend">
<rect x="1" y="1" width="216" height="120" fill="#fff" stroke="#000" stroke-width="1.5"/>
<circle class="u" cx="15.5" cy="18" style="r:6px"/><text x="31" y="24">User</text>
<circle class="c" cx="15.5" cy="47" style="r:6px"/><text x="31" y="53">Comment</text>
<circle class="m" cx="15.5" cy="75" style="r:6px"/><text x="31" y="82">Commit</text>
<circle class="i" cx="15.5" cy="104" style="r:6px"/><text x="31" y="110">Issue</text>
<circle class="p" cx="133" cy="18" style="r:6px"/><text x="149" y="24">Pull</text>
<circle class="r" cx="133" cy="46.5" style="r:6px"/><text x="149" y="53">Review</text>
<circle class="u" cx="133" cy="74.5" style="r:6px"/><path d="M127 74.5H139M133 68.5V80.5" stroke="#222" stroke-width="1"/><text x="149" y="81">Repo</text>
</g>
</svg>
